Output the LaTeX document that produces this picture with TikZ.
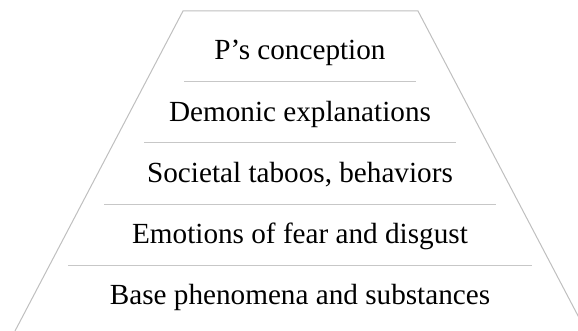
\documentclass[tikz,border=0pt]{standalone}
\usepackage{fontspec}
\setmainfont{Liberation Serif}
\usetikzlibrary{positioning}
\tikzset{>=latex}
\tikzstyle{level}=[inner sep=0pt,anchor=base,text=black,font=\fontsize{14.6}{17}\selectfont]
\tikzstyle{divider}=[draw=black!22,line width=0.5pt]
\tikzstyle{outline}=[draw=black!25,line width=0.5pt]

\begin{document}
\begin{tikzpicture}[x=0.5pt,y=-0.5pt]
\def \cx {300};
\def \base {60};
\def \gap {61.25};

\useasboundingbox (0,0) rectangle (578,331);
\clip (0,0) rectangle (578,331);

% outline of the pyramid
\coordinate (tl) at (183,11);
\coordinate (tr) at (418,11);
\coordinate (bl) at (15,331);
\coordinate (br) at (586,331);
\draw[outline] (bl) -- (tl) -- (tr) -- (br);

% levels, top to bottom
\foreach \i/\txt in {1/{P's conception},2/{Demonic explanations},3/{Societal taboos, behaviors},4/{Emotions of fear and disgust},5/{Base phenomena and substances}} {
	\node[level] (lvl\i) at (\cx, {\base + (\i-1)*\gap}) {\txt};
};

% dividers between the levels
\foreach \i/\hw/\yy in {1/116/82,2/156/143,3/196/205,4/232/266} {
	\coordinate (dl\i) at (\cx-\hw, \yy);
	\coordinate (dr\i) at (\cx+\hw, \yy);
	\draw[divider] (dl\i) -- (dr\i);
};

\end{tikzpicture}
\end{document}
